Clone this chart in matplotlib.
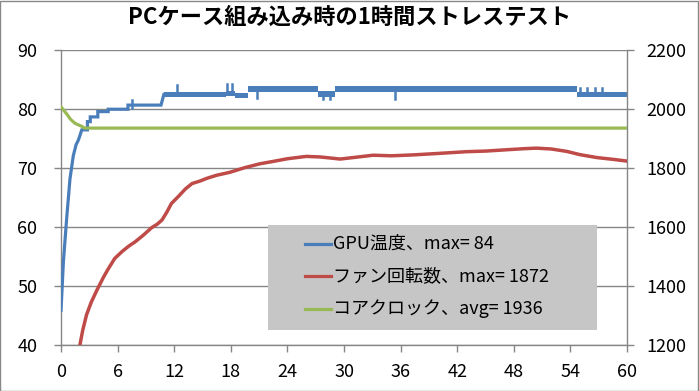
import matplotlib
matplotlib.use("Agg")
import matplotlib.pyplot as plt
from matplotlib.patches import Rectangle
from matplotlib.lines import Line2D

plt.rcParams['font.family'] = ['Noto Sans CJK JP', 'DejaVu Sans']

title = "PCケース組み込み時の1時間ストレステスト"
labels = ["GPU温度、max= 84", "ファン回転数、max= 1872", "コアクロック、avg= 1936"]
x_ticks = [0, 6, 12, 18, 24, 30, 36, 42, 48, 54, 60]
left_ticks = [40, 50, 60, 70, 80, 90]
right_ticks = [1200, 1400, 1600, 1800, 2000, 2200]

# GPU temperature (left axis), warm-up part with steps
gpu_t = [0, 0.25, 0.6, 0.95, 1.3, 1.6, 1.85, 2.2, 2.8, 2.8, 3.1, 3.1, 3.9, 3.9, 5.0, 5.0, 7.1, 7.1, 10.6, 10.9]
gpu_v = [45.9, 54.1, 61.5, 68.2, 72.1, 74.0, 74.8, 76.5, 76.5, 77.9, 77.9, 78.7, 78.7, 79.6, 79.6, 80.0, 80.0, 80.7, 80.7, 82.5]
# jittery band after 11 min: (start, end, low, high)
gpu_band = [
    (10.9, 17.5, 82.0, 83.0),
    (17.5, 18.4, 82.2, 83.1),
    (18.4, 19.8, 81.9, 82.8),
    (19.8, 27.2, 82.9, 84.0),
    (27.2, 29.0, 82.1, 83.1),
    (29.0, 54.7, 82.9, 84.0),
    (54.7, 60.0, 82.0, 83.0),
]
# short spikes: (time, from, to)
gpu_spikes = [
    (7.5, 80.2, 81.6), (12.3, 82.5, 84.1), (17.6, 82.8, 84.3), (18.1, 82.8, 84.3),
    (20.8, 83.0, 81.9), (27.8, 82.5, 81.8), (28.5, 82.5, 81.8), (35.4, 83.0, 81.8),
    (55.0, 82.5, 83.6), (55.8, 82.5, 83.6), (56.6, 82.5, 83.6), (57.4, 82.5, 83.6),
]

# fan speed (right axis)
fan_t = [2.0, 2.3, 2.7, 3.2, 3.8, 4.5, 5.0, 5.7, 6.5, 7.2, 7.85, 8.7, 9.6, 10.2, 10.7, 11.2, 11.7,
         12.5, 13.2, 13.9, 14.7, 15.5, 16.5, 17.9, 19.5, 21.1, 22.5, 24.0, 26.0, 27.5, 29.6,
         31.5, 33.1, 35.0, 37.3, 40.0, 43.0, 45.0, 47.0, 49.0, 50.4, 52.0, 53.6, 55.0, 56.8, 58.5, 60.0]
fan_v = [1200, 1250, 1302, 1345, 1386, 1430, 1458, 1494, 1518, 1536, 1550, 1572, 1598, 1610, 1624, 1650, 1680,
         1706, 1730, 1748, 1756, 1766, 1776, 1786, 1802, 1815, 1823, 1832, 1840, 1838, 1831,
         1838, 1844, 1842, 1845, 1850, 1856, 1858, 1862, 1866, 1868, 1865, 1857, 1846, 1836, 1830, 1824]

# core clock (right axis)
clk_t = [0, 0.2, 0.4, 0.7, 0.95, 1.2, 1.5, 1.9, 2.2, 2.5, 60]
clk_v = [2008, 2000, 1992, 1980, 1968, 1960, 1952, 1946, 1942, 1936, 1936]

blue = "#4a7ebb"
red = "#be4b48"
green = "#98b954"
grid_c = "#868686"

fig = plt.figure(figsize=(6.99, 3.91), dpi=100)
ax = fig.add_axes([0.0873, 0.1176, 0.8097, 0.7538])
ax2 = ax.twinx()

ax.set_xlim(0, 60)
ax.set_ylim(40, 90)
ax2.set_ylim(1200, 2200)

ax.set_xticks(x_ticks)
ax.set_yticks(left_ticks)
ax2.set_yticks(right_ticks)
ax.yaxis.grid(True, color=grid_c, linewidth=1.0)
ax.set_axisbelow(True)

for a in (ax, ax2):
    for s in a.spines.values():
        s.set_color(grid_c)
        s.set_linewidth(1.0)
    a.spines['top'].set_visible(False)
    a.tick_params(direction='out', length=5, width=1.0, color=grid_c, labelsize=13, labelcolor='black')
ax.spines['right'].set_visible(False)
ax2.spines['left'].set_visible(False)
ax2.spines['bottom'].set_visible(False)
ax.tick_params(axis='x', pad=8)
ax.tick_params(axis='y', pad=12)
ax2.tick_params(axis='y', pad=9)

ax.plot(gpu_t, gpu_v, color=blue, linewidth=2.3, solid_joinstyle='miter', zorder=3)
for t0, t1, lo, hi in gpu_band:
    ax.fill_between([t0, t1], [lo, lo], [hi, hi], color=blue, linewidth=0, zorder=3)
for t, v0, v1 in gpu_spikes:
    ax.plot([t, t], [v0, v1], color=blue, linewidth=1.8, zorder=3)

ax2.plot(fan_t, fan_v, color=red, linewidth=2.5, zorder=3)
ax2.plot(clk_t, clk_v, color=green, linewidth=2.3, zorder=3)

fig.text(0.5, 0.955, title, ha='center', va='center', fontsize=16, fontweight='bold')

# legend box
fig.patches.append(Rectangle((268 / 699, 1 - 330 / 391), 329 / 699, 105 / 391,
                             transform=fig.transFigure, facecolor="#c6c6c6", edgecolor='none', zorder=5))
rows_y = [244, 276, 309]
for lab, col, yp in zip(labels, [blue, red, green], rows_y):
    yf = 1 - yp / 391
    fig.lines.append(Line2D([305 / 699, 331 / 699], [yf, yf], transform=fig.transFigure,
                            color=col, linewidth=2.3, zorder=6))
    fig.text(333 / 699, yf, lab, ha='left', va='center', fontsize=13, zorder=6)

# outer border
fig.patches.append(Rectangle((0.0007, 0.001), 0.9985, 0.997, transform=fig.transFigure,
                             facecolor='none', edgecolor='#888888', linewidth=1.0))

fig.savefig("out.png", dpi=100)
